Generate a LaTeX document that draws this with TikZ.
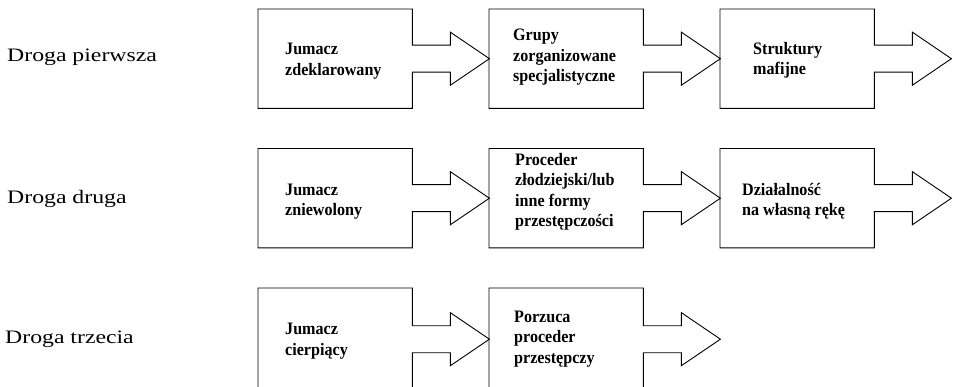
\documentclass[tikz,border=0pt]{standalone}
\usepackage{fontspec}
\setmainfont{Liberation Serif}
\newfontfamily\labfont[FakeStretch=1.25]{Liberation Serif}
\newfontfamily\boxfont[FakeStretch=0.92]{Liberation Serif}
\usetikzlibrary{calc}
\newcommand\flowbox[1]{%
  \draw[boxline] ($(#1.east)+(0,-13.5)$) -- (#1.north east) -- (#1.north west)
    -- (#1.south west) -- (#1.south east) -- ($(#1.east)+(0,13.5)$)
    -- ($(#1.east)+(38,13.5)$) -- ($(#1.east)+(38,26.5)$) -- ($(#1.east)+(77,0)$)
    -- ($(#1.east)+(38,-26.5)$) -- ($(#1.east)+(38,-13.5)$) -- cycle;}
\begin{document}
\begin{tikzpicture}[x=1pt,y=-1pt,
  blk/.style={rectangle, inner sep=0pt, minimum width=154pt, minimum height=99pt, anchor=north west},
  boxline/.style={draw=black, line width=0.9pt, line join=miter},
  txt/.style={font=\boxfont\fontsize{17.5}{20.5}\selectfont\bfseries, align=left, anchor=base west, inner sep=0pt},
  lab/.style={font=\fontsize{19}{23}\labfont, anchor=base west, inner sep=0pt}]
\useasboundingbox (0,0) rectangle (958,387);
% boxes
\node[blk] (b11) at (258,9) {};
\node[blk] (b12) at (489,9) {};
\node[blk] (b13) at (720,9) {};
\node[blk] (b21) at (258,148.5) {};
\node[blk] (b22) at (489,148.5) {};
\node[blk] (b23) at (720,148.5) {};
\node[blk, minimum height=102pt] (b31) at (258,288) {};
\node[blk, minimum height=102pt] (b32) at (489,288) {};
\flowbox{b11}\flowbox{b12}\flowbox{b13}
\flowbox{b21}\flowbox{b22}\flowbox{b23}
\flowbox{b31}\flowbox{b32}
% texts (anchored at the baseline of the last line)
\node[txt] (t11) at (285,75.5) {Jumacz\\zdeklarowany};
\node[txt] (t12) at (513,82) {Grupy\\zorganizowane\\specjalistyczne};
\node[txt] (t13) at (753,75) {Struktury\\mafijne};
\node[txt] (t21) at (285,216) {Jumacz\\zniewolony};
\node[txt] (t22) at (515,227) {Proceder\\złodziejski/lub\\inne formy\\przestępczości};
\node[txt] (t23) at (742,216) {Działalność\\na własną rękę};
\node[txt] (t31) at (285,355) {Jumacz\\cierpiący};
\node[txt] (t32) at (514,363) {Porzuca\\proceder\\przestępczy};
% labels
\node[lab] (l1) at (7,61.7) {Droga pierwsza};
\node[lab] (l2) at (7,203.3) {Droga druga};
\node[lab] (l3) at (5,343.3) {Droga trzecia};
\end{tikzpicture}
\end{document}
